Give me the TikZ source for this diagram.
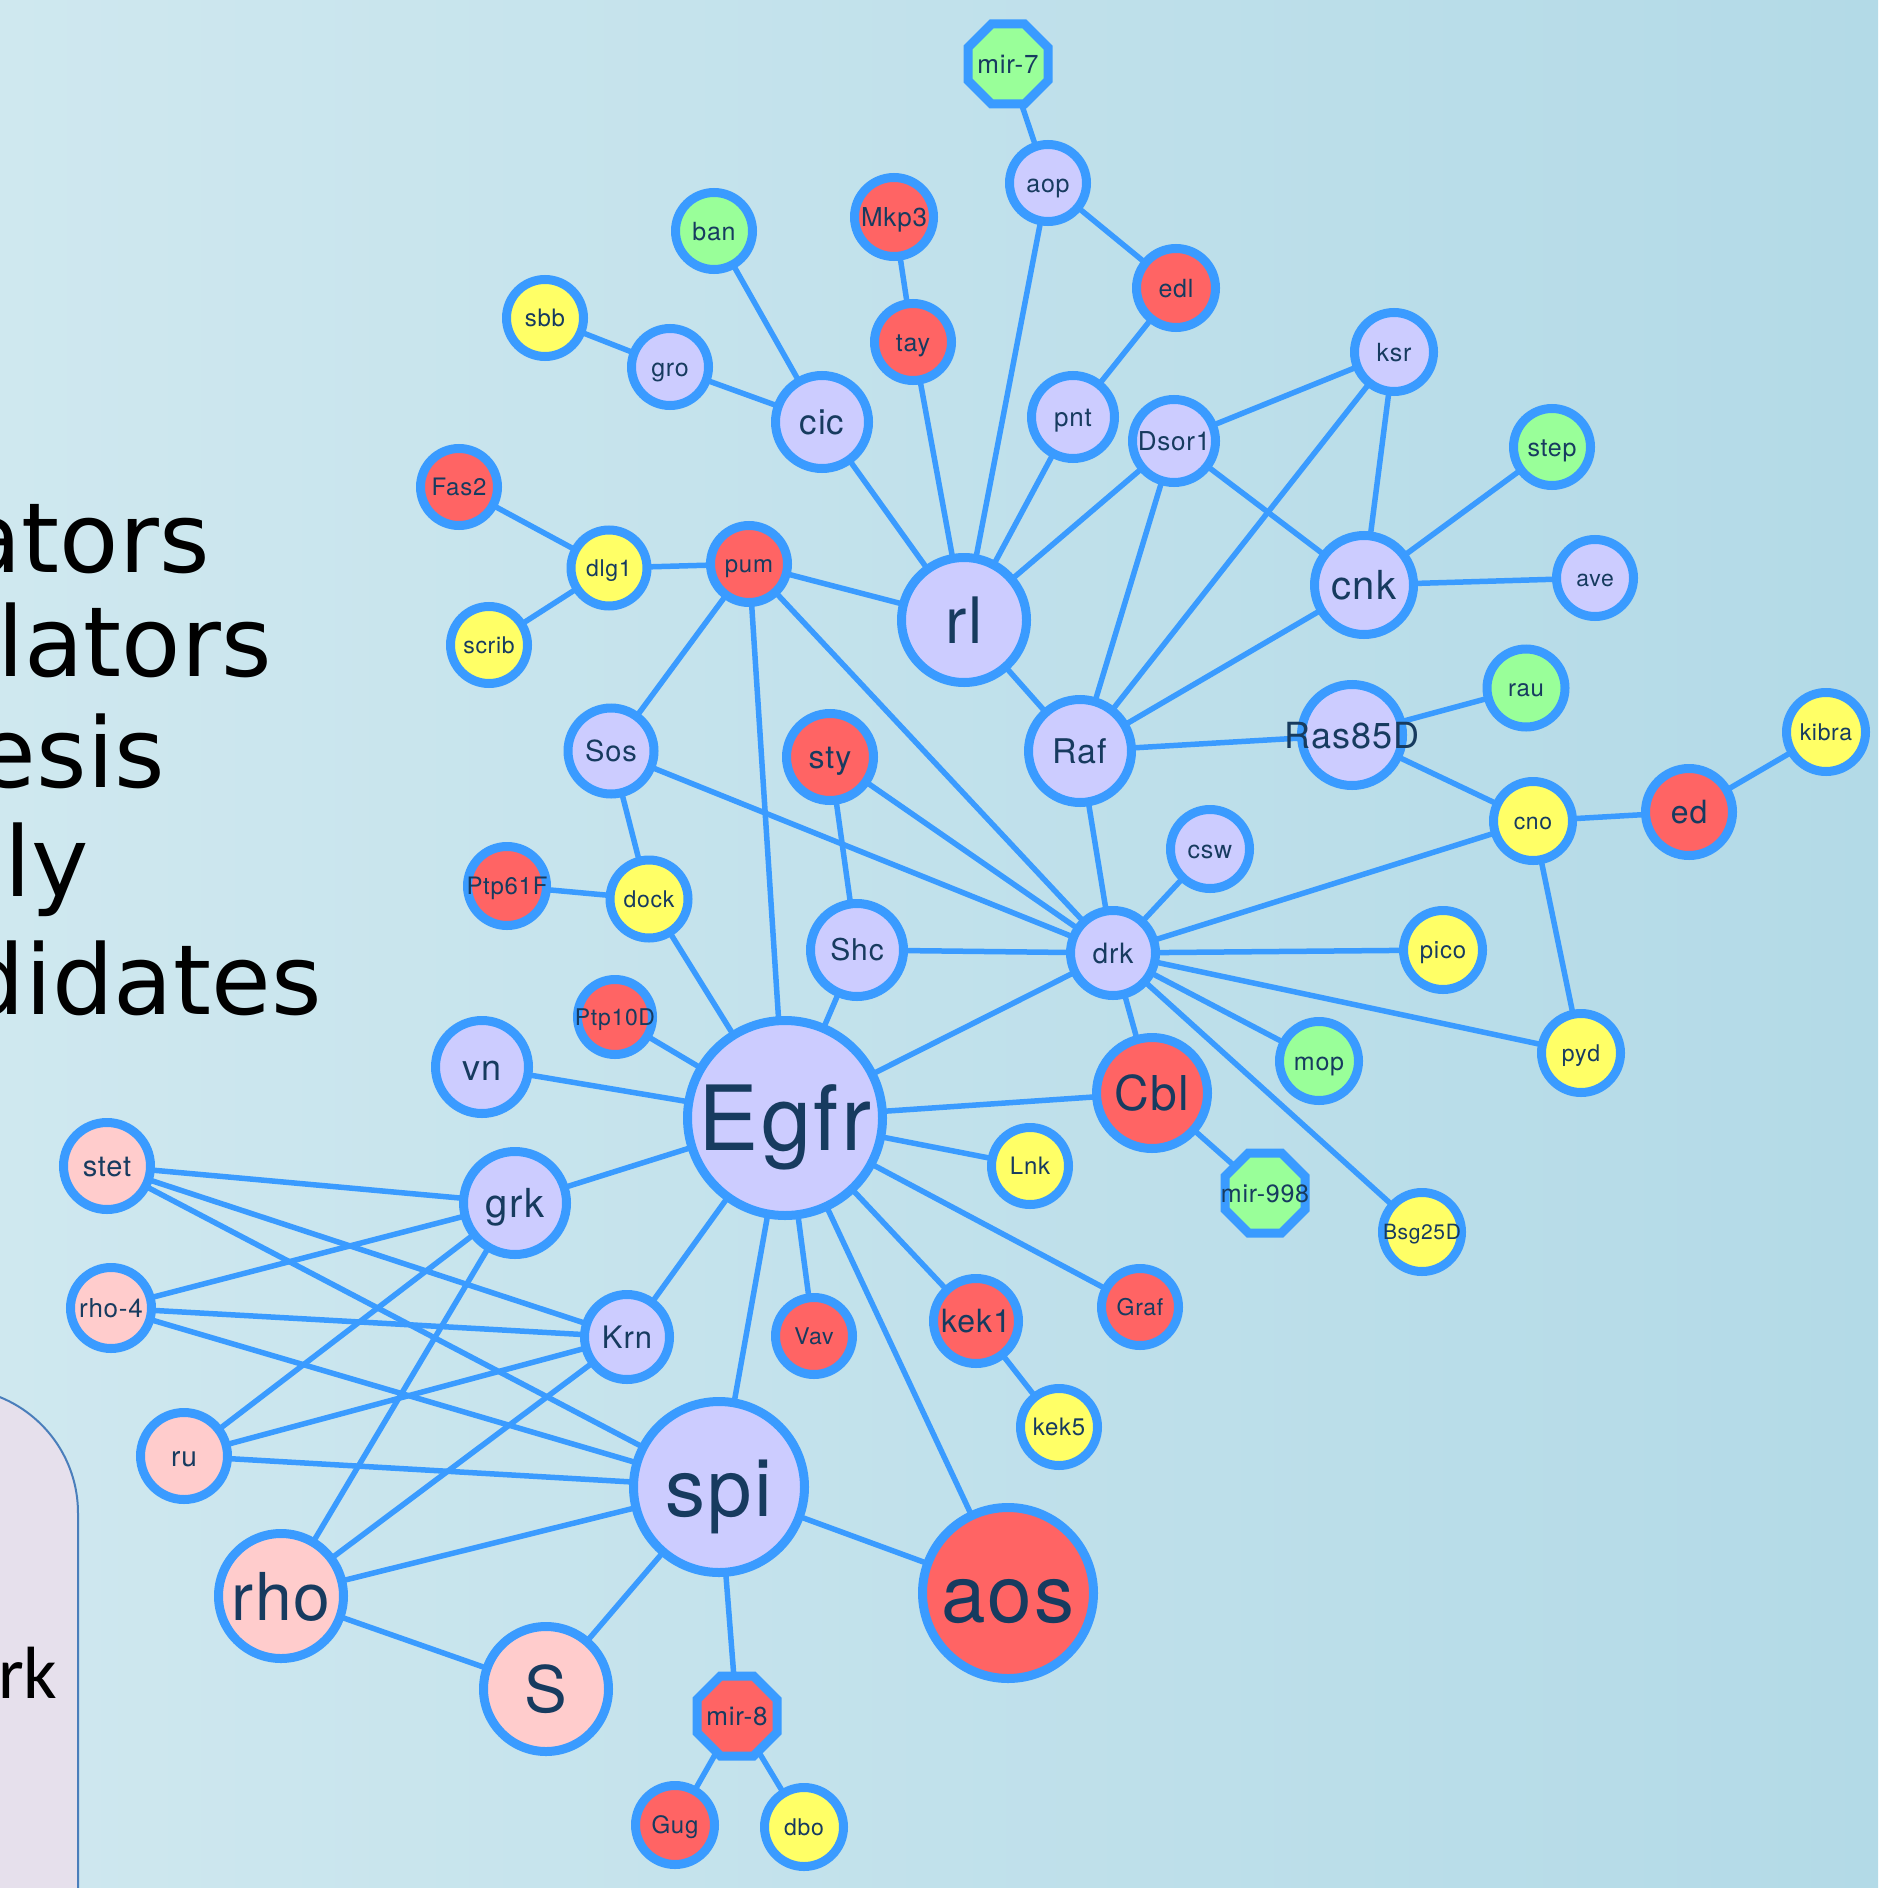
\documentclass[tikz,border=0pt]{standalone}
\usepackage{fontspec}
\usetikzlibrary{shapes.geometric}
\setmainfont{TeX Gyre Heros}
\newfontfamily\nodefont{TeX Gyre Heros}[LetterSpace=3]
\newfontfamily\legendfont{DejaVu Sans}
\newfontfamily\panelfont{Carlito}

\definecolor{bgleft}{HTML}{CFE8EF}
\definecolor{bgright}{HTML}{B3DAE7}
\definecolor{ring}{HTML}{3A9BFF}
\definecolor{ink}{HTML}{173B5F}
\definecolor{lavfill}{HTML}{CCCCFF}
\definecolor{redfill}{HTML}{FF6464}
\definecolor{yelfill}{HTML}{FFFF66}
\definecolor{grnfill}{HTML}{99FF99}
\definecolor{pnkfill}{HTML}{FFCCCC}
\definecolor{panelfill}{HTML}{E6E0EC}
\definecolor{panelline}{HTML}{4A7EBB}

% label centred on the node, caps centred vertically, never widening the shape
\newcommand{\lbl}[1]{\makebox[0pt]{\smash{#1}}\vphantom{X}}

\pgfdeclarelayer{back}
\pgfdeclarelayer{wires}
\pgfsetlayers{back,wires,main}

\tikzset{
  gene/.style={circle, draw=ring, line width=4.5pt, inner sep=0pt, outer sep=0pt,
    text=ink, font=\nodefont\fontsize{12}{14}\selectfont, minimum size=39.5pt},
  mirna/.style={regular polygon, regular polygon sides=8, minimum size=43.3pt},
  sz/.style={minimum size=#1pt},
  fs/.style={font=\nodefont\fontsize{#1}{#1}\selectfont},
  lav/.style={fill=lavfill},
  rd/.style={fill=redfill},
  yl/.style={fill=yelfill},
  gr/.style={fill=grnfill},
  pk/.style={fill=pnkfill},
  link/.style={draw=ring, line width=2.75pt},
  legend/.style={anchor=base east, inner sep=0pt, text=black,
    font=\legendfont\fontsize{48.5}{56}\selectfont},
}

\begin{document}
\begin{tikzpicture}[x=0.5pt,y=-0.5pt]
\useasboundingbox (0,0) rectangle (1878,1888);

\begin{pgfonlayer}{back}
  \shade[left color=bgleft, right color=bgright] (0,0) rectangle (1878,1888);
  \begin{scope}
    \clip (0,0) rectangle (1878,1888);
    \draw[fill=panelfill, draw=panelline, line width=1pt, rounded corners=62.5pt]
      (-600,1388) rectangle (78,2200);
    \node[anchor=base east, inner sep=0pt, text=black,
      font=\panelfont\fontsize{37}{40}\selectfont] (paneltxt) at (58,1698) {rk};
    \node[legend] (leg1) at (210,572) {ators};
    \node[legend] (leg2) at (272,676) {lators};
    \node[legend] (leg3) at (165,787) {esis};
    \node[legend] (leg4) at (89,896) {ly};
    \node[legend] (leg5) at (322,1014) {didates};
  \end{scope}
\end{pgfonlayer}

% genes and microRNAs
\node[gene,mirna,gr,fs=13] (mir7) at (1008,64) {\lbl{mir-7}};
\node[gene,lav,sz=38.5,fs=12.5] (aop) at (1048,183) {\lbl{aop}};
\node[gene,gr,sz=38.5,fs=12.5] (ban) at (714,231) {\lbl{ban}};
\node[gene,rd,fs=13] (Mkp3) at (894,217) {\lbl{Mkp3}};
\node[gene,rd,fs=12.5] (edl) at (1176,288) {\lbl{edl}};
\node[gene,yl,sz=38.5] (sbb) at (545,318) {\lbl{sbb}};
\node[gene,lav,sz=38.5,fs=12.5] (gro) at (670,367) {\lbl{gro}};
\node[gene,rd,sz=38.5,fs=12.5] (tay) at (913,342) {\lbl{tay}};
\node[gene,lav,fs=12.5] (ksr) at (1394,352) {\lbl{ksr}};
\node[gene,lav,sz=46.5,fs=17.5] (cic) at (822,422) {\lbl{cic}};
\node[gene,lav,sz=41.5,fs=13] (pnt) at (1073,417) {\lbl{pnt}};
\node[gene,lav,sz=41.5,fs=13] (Dsor1) at (1174,441) {\lbl{Dsor1}};
\node[gene,gr,sz=38.5,fs=12.5] (step) at (1552,447) {\lbl{step}};
\node[gene,rd,sz=38.5] (Fas2) at (459,487) {\lbl{Fas2}};
\node[gene,yl,sz=38,fs=11.5] (dlg1) at (609,568) {\lbl{dlg1}};
\node[gene,rd,sz=38.5] (pum) at (749,564) {\lbl{pum}};
\node[gene,lav,sz=62.5,fs=32] (rl) at (964,620) {\lbl{rl}};
\node[gene,lav,sz=49.5,fs=20] (cnk) at (1364,585) {\lbl{cnk}};
\node[gene,lav,sz=38.5,fs=11.5] (ave) at (1595,578) {\lbl{ave}};
\node[gene,yl,sz=38.5,fs=11.5] (scrib) at (489,645) {\lbl{scrib}};
\node[gene,gr,sz=39] (rau) at (1526,688) {\lbl{rau}};
\node[gene,lav,sz=43,fs=14.5] (Sos) at (611,751) {\lbl{Sos}};
\node[gene,rd,sz=43.5,fs=16] (sty) at (830,757) {\lbl{sty}};
\node[gene,lav,sz=51.5,fs=17] (Raf) at (1080,751) {\lbl{Raf}};
\node[gene,lav,sz=50.5,fs=18] (Ras85D) at (1352,735) {\lbl{Ras85D}};
\node[gene,yl,fs=11.5] (kibra) at (1826,732) {\lbl{kibra}};
\node[gene,yl,fs=11.5] (cno) at (1533,821) {\lbl{cno}};
\node[gene,rd,sz=43.5,fs=16] (ed) at (1689,812) {\lbl{ed}};
\node[gene,lav,fs=12.5] (csw) at (1210,849) {\lbl{csw}};
\node[gene,rd] (Ptp61F) at (507,886) {\lbl{Ptp61F}};
\node[gene,yl,sz=39,fs=11.5] (dock) at (649,899) {\lbl{dock}};
\node[gene,lav,sz=46.5,fs=15] (Shc) at (857,950) {\lbl{Shc}};
\node[gene,lav,sz=42.5,fs=14] (drk) at (1113,953) {\lbl{drk}};
\node[gene,yl] (pico) at (1443,950) {\lbl{pico}};
\node[gene,rd,sz=37.5,fs=11.5] (Ptp10D) at (615,1017) {\lbl{Ptp10D}};
\node[gene,lav,sz=46.5,fs=18] (vn) at (482,1067) {\lbl{vn}};
\node[gene,lav,sz=97.5,fs=45] (Egfr) at (785,1118) {\lbl{Egfr}};
\node[gene,gr,fs=12.5] (mop) at (1319,1061) {\lbl{mop}};
\node[gene,yl,fs=11.5] (pyd) at (1581,1053) {\lbl{pyd}};
\node[gene,rd,sz=55.5,fs=24] (Cbl) at (1152,1093) {\lbl{Cbl}};
\node[gene,pk,sz=43.5,fs=14.5] (stet) at (107,1166) {\lbl{stet}};
\node[gene,lav,sz=51.5,fs=20] (grk) at (515,1203) {\lbl{grk}};
\node[gene,yl,sz=38.5] (Lnk) at (1030,1166) {\lbl{Lnk}};
\node[gene,mirna,gr,fs=12.5] (mir998) at (1265,1193) {\lbl{mir-998}};
\node[gene,yl,fs=10.5] (Bsg25D) at (1422,1232) {\lbl{Bsg25D}};
\node[gene,pk,sz=40.5,fs=13] (rho4) at (111,1308) {\lbl{rho-4}};
\node[gene,lav,sz=42.5,fs=15.5] (Krn) at (627,1337) {\lbl{Krn}};
\node[gene,rd,sz=38.5,fs=11.5] (Vav) at (814,1336) {\lbl{Vav}};
\node[gene,rd,sz=42.5,fs=16] (kek1) at (976,1321) {\lbl{kek1}};
\node[gene,rd,sz=38.5,fs=11.5] (Graf) at (1140,1307) {\lbl{Graf}};
\node[gene,yl,sz=38.5] (kek5) at (1059,1427) {\lbl{kek5}};
\node[gene,pk,sz=43.5,fs=14] (ru) at (184,1456) {\lbl{ru}};
\node[gene,lav,sz=85.5,fs=40] (spi) at (719,1487) {\lbl{spi}};
\node[gene,pk,sz=62.5,fs=33] (rho) at (281,1596) {\lbl{rho}};
\node[gene,rd,sz=85.5,fs=40] (aos) at (1008,1593) {\lbl{aos}};
\node[gene,pk,sz=62.5,fs=32] (S) at (546,1689) {\lbl{S}};
\node[gene,mirna,rd,fs=13] (mir8) at (737,1716) {\lbl{mir-8}};
\node[gene,rd] (Gug) at (675,1825) {\lbl{Gug}};
\node[gene,yl,fs=11.5] (dbo) at (804,1827) {\lbl{dbo}};

% interactions
\begin{pgfonlayer}{wires}
\foreach \a/\b in {
  mir7/aop, aop/edl, aop/rl, ban/cic, Mkp3/tay, tay/rl, sbb/gro, gro/cic,
  cic/rl, edl/pnt, pnt/rl, Dsor1/rl, Dsor1/ksr, Dsor1/cnk, Dsor1/Raf,
  ksr/cnk, ksr/Raf, step/cnk, cnk/ave, cnk/Raf, Fas2/dlg1, dlg1/pum,
  dlg1/scrib, pum/rl, pum/Sos, pum/Egfr, pum/drk, rl/Raf, Raf/Ras85D,
  Raf/drk, Ras85D/rau, Ras85D/cno, cno/ed, ed/kibra, cno/pyd, cno/drk,
  Sos/dock, Sos/drk, sty/drk, sty/Shc, Ptp61F/dock, dock/Egfr, Shc/drk,
  Shc/Egfr, csw/drk, drk/pico, drk/mop, drk/pyd, drk/Bsg25D, drk/Cbl,
  drk/Egfr, Ptp10D/Egfr, vn/Egfr, Egfr/Cbl, Cbl/mir998, Egfr/Lnk,
  Egfr/Graf, Egfr/kek1, kek1/kek5, Egfr/Vav, Egfr/aos, Egfr/spi,
  Egfr/Krn, Egfr/grk, stet/grk, stet/Krn, stet/spi, rho4/grk, rho4/Krn,
  rho4/spi, ru/grk, ru/Krn, ru/spi, rho/grk, rho/Krn, rho/spi, rho/S,
  S/spi, spi/aos, spi/mir8, mir8/Gug, mir8/dbo}
  \draw[link] (\a) -- (\b);
\end{pgfonlayer}
\end{tikzpicture}
\end{document}
